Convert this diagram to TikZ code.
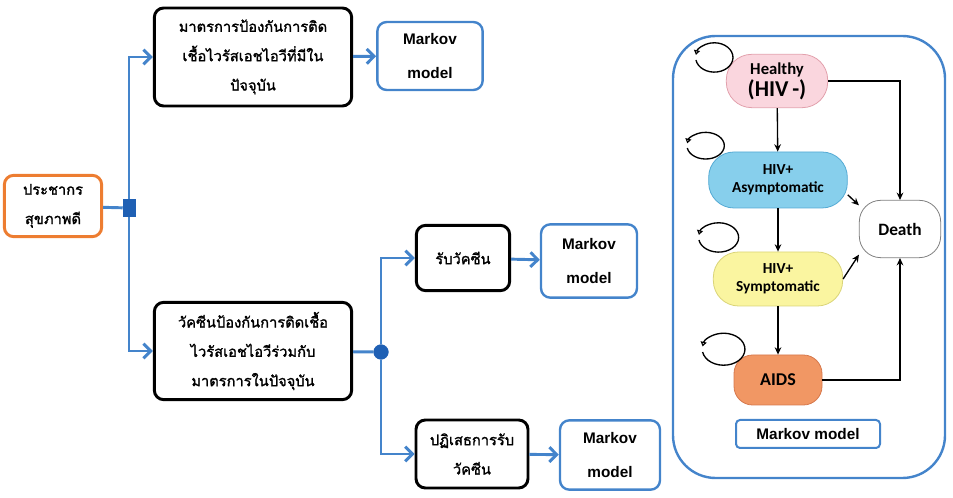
\documentclass[tikz,border=0pt]{standalone}
\usepackage{fontspec}
\usepackage{tikz}
\usepackage{xcolor}
\usetikzlibrary{arrows.meta}

\newfontfamily\thaifont[Script=Thai, AutoFakeBold=1.6]{Loma}
\newfontfamily\arialfont{Liberation Sans}
\newfontfamily\calfont{Carlito}

\definecolor{flowblue}{RGB}{68,132,203}
\definecolor{knotblue}{RGB}{31,96,180}
\definecolor{popor}{RGB}{237,125,49}
\definecolor{hlpink}{RGB}{250,214,222}
\definecolor{hlpinkd}{RGB}{226,160,172}
\definecolor{asyblue}{RGB}{135,207,236}
\definecolor{asyblued}{RGB}{84,170,212}
\definecolor{symyel}{RGB}{250,245,160}
\definecolor{symyeld}{RGB}{218,212,120}
\definecolor{aidsor}{RGB}{241,151,100}
\definecolor{aidsord}{RGB}{214,120,76}

\begin{document}
\begin{tikzpicture}[x=0.75pt, y=0.75pt,
		thbox/.style={draw, line width=2.2pt, rounded corners=7pt, align=center, font=\thaifont\bfseries\fontsize{11}{22}\selectfont},
		mkbox/.style={draw=flowblue, line width=1.8pt, rounded corners=7pt, align=center, font=\arialfont\bfseries\fontsize{11.5}{26}\selectfont},
		flow/.style={draw=flowblue, line width=2.2pt, -{Straight Barb[length=5.5pt, width=11pt]}},
		state/.style={draw, line width=0.6pt, rounded corners=19pt, align=center, font=\calfont\bfseries\fontsize{11.5}{13.5}\selectfont},
		trans/.style={draw, line width=1pt, -{Stealth[length=5.5pt, width=5pt]}},
		selfloop/.style={draw, line width=1pt, -{Triangle[open, length=3.5pt, width=4.5pt]}}]
	\useasboundingbox (0,0) rectangle (953,-498);
	% left part
	\node[thbox, draw=popor, minimum width=73pt, minimum height=46pt] (pop) at (53,-206) {ประชากร\\สุขภาพดี};
	\node[thbox, minimum width=148pt, minimum height=73.5pt] (cur) at (253,-57) {มาตรการป้องกันการติด\\เชื้อไวรัสเอชไอวีที่มีใน\\ปัจจุบัน};
	\node[mkbox, minimum width=79pt, minimum height=51pt] (mk1) at (430,-56) {Markov\\model};
	\node[thbox, minimum width=148pt, minimum height=73pt] (vac) at (253,-351) {วัคซีนป้องกันการติดเชื้อ\\ไวรัสเอชไอวีร่วมกับ\\มาตรการในปัจจุบัน};
	\node[thbox, minimum width=70pt, minimum height=49pt] (acc) at (463,-258) {รับวัคซีน};
	\node[mkbox, minimum width=72pt, minimum height=55pt] (mk2) at (589,-261) {Markov\\model};
	\node[thbox, minimum width=84pt, minimum height=51pt] (ref) at (472,-454) {ปฏิเสธการรับ\\วัคซีน};
	\node[mkbox, minimum width=75pt, minimum height=52pt] (mk3) at (610,-455) {Markov\\model};
	\node[draw=knotblue, fill=knotblue, minimum width=9pt, minimum height=13pt, inner sep=0pt] (sq) at (129,-208) {};
	\node[draw=knotblue, fill=knotblue, circle, minimum size=11pt, inner sep=0pt] (jn) at (381,-352) {};
	\draw[flow, -] (pop) -- (sq);
	\draw[flow] (sq) |- (cur);
	\draw[flow] (sq) |- (vac);
	\draw[flow] (cur) -- (mk1);
	\draw[flow, -] (vac) -- (jn);
	\draw[flow] (jn) |- (acc);
	\draw[flow] (jn) |- (ref);
	\draw[flow] (acc) -- (mk2);
	\draw[flow] (ref) -- (mk3);
	% Markov model panel
	\node[draw=flowblue, line width=1.8pt, rounded corners=32pt, minimum width=204pt, minimum height=331.5pt] (panel) at (809,-257) {};
	\node[state, draw=hlpinkd, fill=hlpink, minimum width=76pt, minimum height=40pt] (hl) at (777,-81) {{\fontsize{12.5}{14}\selectfont Healthy}\\[1pt]{\fontsize{17}{17}\selectfont(HIV\,-)}};
	\node[state, draw=asyblued, fill=asyblue, minimum width=104pt, minimum height=42pt] (asy) at (778,-180) {HIV+\\Asymptomatic};
	\node[state, draw=gray, fill=white, rounded corners=16pt, minimum width=61pt, minimum height=43pt, font=\calfont\bfseries\fontsize{13}{15}\selectfont] (dth) at (900,-229) {Death};
	\node[state, draw=symyeld, fill=symyel, minimum width=97pt, minimum height=40.5pt] (sym) at (778,-279) {HIV+\\Symptomatic};
	\node[state, draw=aidsord, fill=aidsor, rounded corners=14pt, minimum width=66pt, minimum height=37.5pt, font=\calfont\bfseries\fontsize{13.5}{15}\selectfont] (aids) at (778,-380) {AIDS};
	\node[draw=flowblue, line width=1.5pt, rounded corners=3pt, minimum width=108pt, minimum height=21pt, font=\arialfont\bfseries\fontsize{11.5}{13}\selectfont] (mklab) at (808,-434) {Markov model};
	\draw[trans] (hl) -- (asy);
	\draw[trans] (asy) -- (sym);
	\draw[trans] (sym) -- (aids);
	\draw[trans] (hl.east) -| (dth.north);
	\draw[trans] (aids.east) -| (dth.south);
	\draw[trans] (asy.-12) -- (dth.150);
	\draw[trans] (sym.east) -- (dth.-148);
	\draw[selfloop] (hl.west) ++(-30,21) arc[start angle=190, end angle=530, x radius=14pt, y radius=11pt];
	\draw[selfloop] (asy.west) ++(-21,32) arc[start angle=190, end angle=530, x radius=14pt, y radius=10pt];
	\draw[selfloop] (sym.west) ++(-14,39) arc[start angle=190, end angle=530, x radius=15pt, y radius=11pt];
	\draw[selfloop] (aids.west) ++(-31,28) arc[start angle=190, end angle=530, x radius=16pt, y radius=12pt];
\end{tikzpicture}
\end{document}
